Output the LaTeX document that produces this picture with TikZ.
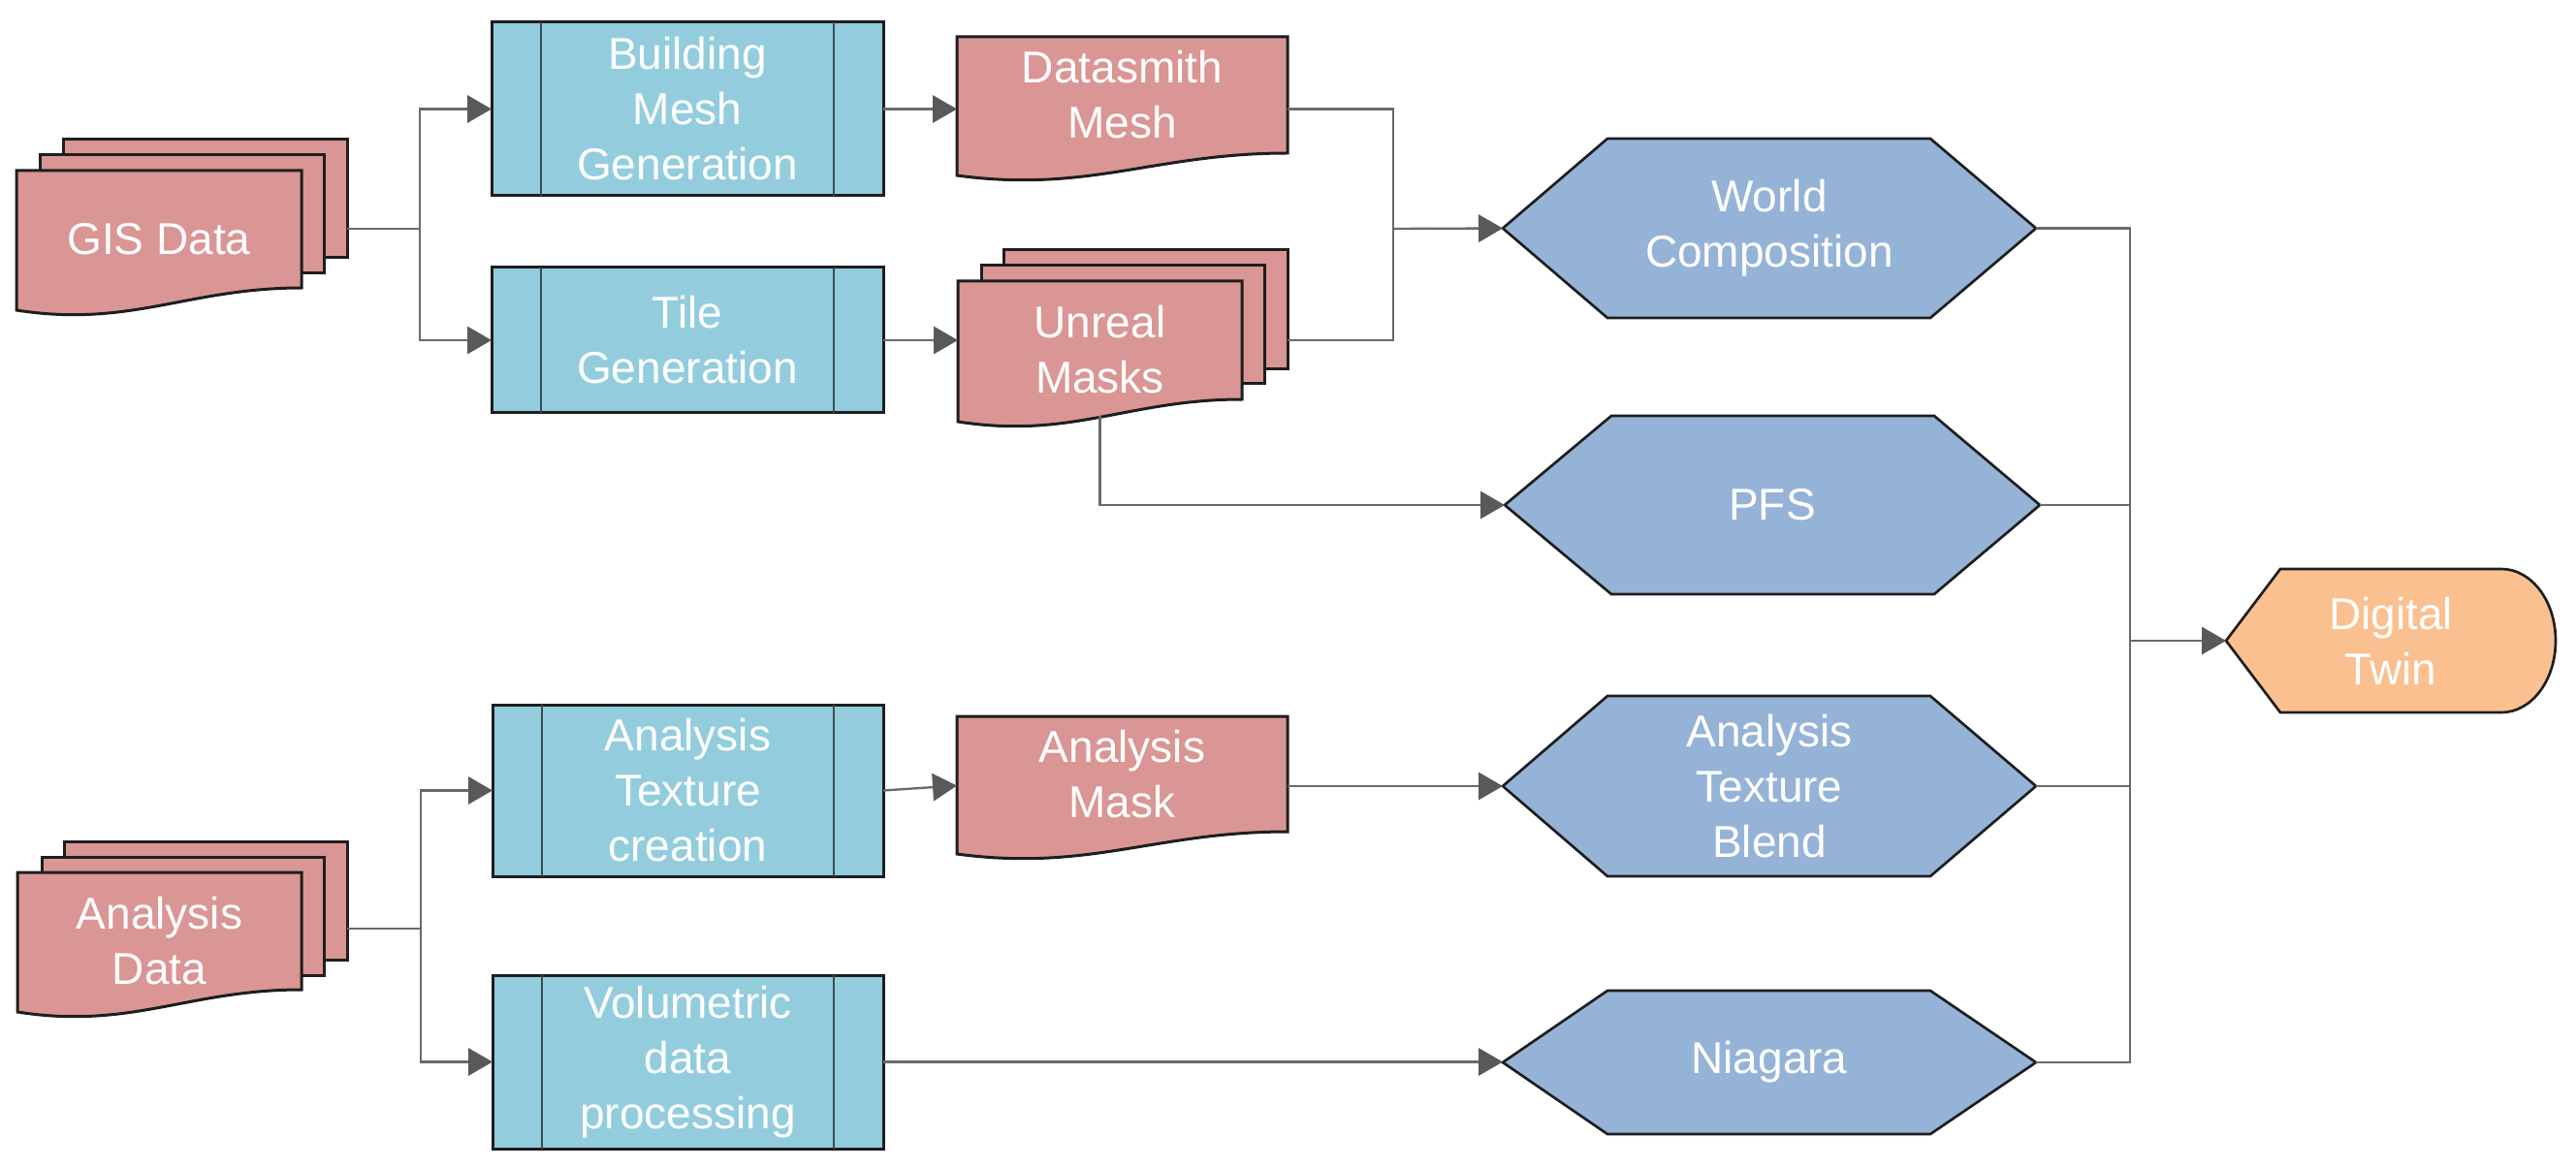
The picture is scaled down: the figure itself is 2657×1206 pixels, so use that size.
\documentclass[tikz,border=0pt]{standalone}
\usepackage{fontspec}
\setmainfont{Liberation Sans}
\usetikzlibrary{arrows.meta,calc}
\definecolor{docfill}{HTML}{D99694}
\definecolor{procfill}{HTML}{93CDDD}
\definecolor{hexfill}{HTML}{95B3D7}
\definecolor{dtfill}{HTML}{FAC090}
\definecolor{edgec}{HTML}{1E1E1E}
\definecolor{innerc}{HTML}{3A4A4E}
\definecolor{connc}{HTML}{6A6A6A}
\definecolor{arrowc}{HTML}{595959}
\newcommand{\pxu}{0.3pt}
% document sheet with wavy bottom: x1 y1 x2 y2
\newcommand{\dsheet}[4]{%
  \filldraw[docshape] (#1,#2) -- (#3,#2) -- (#3,#4)
    .. controls ({#3-0.4*(#3-#1)},#4) and ({#1+0.4*(#3-#1)},{#4+1.8*23}) .. (#1,{#4+23}) -- cycle;}
\newcommand{\rsheet}[4]{\filldraw[docshape] (#1,#2) rectangle (#3,#4);}
\newcommand{\procbox}[4]{%
  \filldraw[procshape] (#1,#2) rectangle (#3,#4);
  \draw[innerline] ({#1+51},#2) -- ({#1+51},#4);
  \draw[innerline] ({#3-51},#2) -- ({#3-51},#4);}
\newcommand{\hexa}[6]{%
  \filldraw[hexshape] (#1,{(#5+#6)/2}) -- (#2,#5) -- (#3,#5) -- (#4,{(#5+#6)/2}) -- (#3,#6) -- (#2,#6) -- cycle;}
\tikzset{
  docshape/.style={fill=docfill, draw=edgec, line width=0.9pt, line join=miter},
  procshape/.style={fill=procfill, draw=edgec, line width=0.9pt},
  innerline/.style={draw=innerc, line width=0.8pt},
  hexshape/.style={fill=hexfill, draw=edgec, line width=0.8pt},
  dtshape/.style={fill=dtfill, draw=edgec, line width=0.8pt},
  txt/.style={text=white, font=\fontsize{13.8pt}{17.1pt}\selectfont, align=center,
    inner sep=0pt, outer sep=0pt, rectangle},
  conn/.style={draw=connc, line width=0.7pt},
  arr/.style={-{Triangle[length=7.5pt,width=8.5pt,color=arrowc]}}
}
\begin{document}
\begin{tikzpicture}[x=0.3pt,y=-0.3pt]
\useasboundingbox (0,0) rectangle (2657,1206);

% ---------- shapes ----------
% GIS Data stack
\rsheet{65}{144}{358}{266}
\rsheet{41}{160}{334}{282}
\dsheet{17}{176}{311}{297}
% Unreal Masks stack
\rsheet{1035}{258}{1328}{381}
\rsheet{1012}{274}{1304}{396}
\dsheet{988}{290}{1281}{412}
% Analysis Data stack
\rsheet{66}{868}{358}{990}
\rsheet{43}{884}{334}{1006}
\dsheet{18}{900}{311}{1021}
% single documents
\dsheet{987}{38}{1328}{158}
\dsheet{987}{739}{1328}{858}
% process boxes
\procbox{507}{23}{911}{202}
\procbox{507}{276}{911}{426}
\procbox{508}{727}{911}{904}
\procbox{508}{1006}{911}{1185}
% hexagons
\hexa{1550}{1658}{1991}{2100}{143}{328}
\hexa{1552}{1662}{1995}{2104}{429}{613}
\hexa{1550}{1658}{1991}{2100}{718}{904}
\hexa{1550}{1658}{1991}{2100}{1022}{1170}
% digital twin display shape
\filldraw[dtshape] (2296,661) -- (2352,587) -- (2580,587)
  .. controls (2611,587) and (2636,620) .. (2636,661)
  .. controls (2636,702) and (2611,735) .. (2580,735) -- (2352,735) -- cycle;

% ---------- nodes ----------
\node[txt, minimum width=294*\pxu, minimum height=141*\pxu] (gis) at (164,246.5) {GIS Data};
\node[txt, minimum width=293*\pxu, minimum height=122*\pxu] (gisB) at (211.5,205) {};
\node[txt, minimum width=293*\pxu, minimum height=142*\pxu] (um) at (1134.5,361) {Unreal\\Masks};
\node[txt, minimum width=293*\pxu, minimum height=123*\pxu] (umB) at (1181.5,319.5) {};
\node[txt, minimum width=293*\pxu, minimum height=141*\pxu] (ad) at (164.5,970.5) {Analysis\\Data};
\node[txt, minimum width=292*\pxu, minimum height=122*\pxu] (adB) at (212,929) {};
\node[txt, minimum width=341*\pxu, minimum height=120*\pxu] (dsm) at (1157.5,98) {Datasmith\\Mesh};
\node[txt, minimum width=341*\pxu, minimum height=119*\pxu] (am) at (1157.5,798.5) {Analysis\\Mask};
\node[txt, minimum width=404*\pxu, minimum height=179*\pxu] (bmg) at (709,112.5) {Building\\Mesh\\Generation};
\node[txt, minimum width=404*\pxu, minimum height=150*\pxu] (tg) at (709,351) {Tile\\Generation};
\node[txt, minimum width=403*\pxu, minimum height=177*\pxu] (atc) at (709.5,815.5) {Analysis\\Texture\\creation};
\node[txt, minimum width=403*\pxu, minimum height=179*\pxu] (vdp) at (709.5,1095.5) {Volumetric\\data\\processing};
\node[txt, minimum width=550*\pxu, minimum height=185*\pxu] (wc) at (1825,235.5) {World\\Composition};
\node[txt, minimum width=552*\pxu, minimum height=184*\pxu] (pfs) at (1828,521) {PFS};
\node[txt, minimum width=550*\pxu, minimum height=186*\pxu] (atb) at (1825,811) {Analysis\\Texture\\Blend};
\node[txt, minimum width=550*\pxu, minimum height=148*\pxu] (nia) at (1825,1096) {Niagara};
\node[txt, minimum width=340*\pxu, minimum height=148*\pxu] (dt) at (2466,661) {Digital\\Twin};

% ---------- connectors ----------
\coordinate (gisj) at (433,236);
\coordinate (wcj) at (1437,236);
\coordinate (dtj) at (2197,661);
\coordinate (adj) at (434,958);

\draw[conn] (gisB.east |- gisj) -- (gisj);
\draw[conn,arr] (gisj) |- (bmg.west);
\draw[conn,arr] (gisj) |- (tg.west);
\draw[conn,arr] (bmg.east) -- (bmg.east -| dsm.west);
\draw[conn,arr] (tg.east) -- (tg.east -| um.west);
\draw[conn] (bmg.east -| dsm.east) -| (wcj);
\draw[conn] (tg.east -| umB.east) -| (wcj);
\draw[conn,arr] (wcj) -- (wc.west);
\draw[conn,arr] ($(um.south)+(0,-3)$) |- (pfs.west);

\draw[conn] (wc.east) -| (dtj);
\draw[conn] (pfs.east) -| (dtj);
\draw[conn] (atb.east) -| (dtj);
\draw[conn] (nia.east) -| (dtj);
\draw[conn,arr] (dtj) -- (dt.west);

\draw[conn] (adB.east |- adj) -- (adj);
\draw[conn,arr] (adj) |- (atc.west);
\draw[conn,arr] (adj) |- (vdp.west);
\draw[conn,arr] (atc.east) -- ($(am.west)+(0,12)$);
\draw[conn,arr] (atb.west -| am.east) -- (atb.west);
\draw[conn,arr] (vdp.east) -- (vdp.east -| nia.west);
\end{tikzpicture}
\end{document}
